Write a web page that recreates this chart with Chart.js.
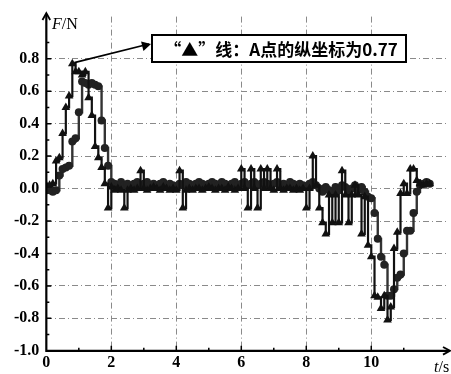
<!DOCTYPE html>
<html>
<head>
<meta charset="utf-8">
<script src="https://cdn.jsdelivr.net/npm/chart.js@4/dist/chart.umd.min.js"></script>
<style>
  html, body { margin: 0; padding: 0; background: #fff; }
  #wrap { width: 451px; height: 374px; }
</style>
</head>
<body>
<div id="wrap"><canvas id="forceChart" width="451" height="374"></canvas></div>
<script>
"use strict";

// sample times (s)
const times = [
  0.0, 0.1, 0.2, 0.3, 0.4, 0.5, 0.6, 0.7, 0.8, 0.9,
  1.0, 1.1, 1.2, 1.3, 1.4, 1.5, 1.6, 1.7, 1.8, 1.9,
  2.0, 2.1, 2.2, 2.3, 2.4, 2.5, 2.6, 2.7, 2.8, 2.9,
  3.0, 3.1, 3.2, 3.3, 3.4, 3.5, 3.6, 3.7, 3.8, 3.9,
  4.0, 4.1, 4.2, 4.3, 4.4, 4.5, 4.6, 4.7, 4.8, 4.9,
  5.0, 5.1, 5.2, 5.3, 5.4, 5.5, 5.6, 5.7, 5.8, 5.9,
  6.0, 6.1, 6.2, 6.3, 6.4, 6.5, 6.6, 6.7, 6.8, 6.9,
  7.0, 7.1, 7.2, 7.3, 7.4, 7.5, 7.6, 7.7, 7.8, 7.9,
  8.0, 8.1, 8.2, 8.3, 8.4, 8.5, 8.6, 8.7, 8.8, 8.9,
  9.0, 9.1, 9.2, 9.3, 9.4, 9.5, 9.6, 9.7, 9.8, 9.9,
  10.0, 10.1, 10.2, 10.3, 10.4, 10.5, 10.6, 10.7, 10.8, 10.9,
  11.0, 11.1, 11.2, 11.3, 11.4, 11.5, 11.6, 11.7, 11.8
];

// "▲" line (N)
const triangleF = [
  0.02, 0.02, 0.03, 0.17, 0.19, 0.34, 0.50, 0.57, 0.77, 0.72,
  0.72, 0.70, 0.72, 0.56, 0.45, 0.26, 0.19, 0.13, 0.03, -0.12,
  0.01, -0.01, 0.00, -0.01, -0.12, -0.01, 0.00, -0.01, 0.00, 0.11,
  0.00, -0.01, 0.00, 0.01, 0.00, -0.01, 0.01, 0.00, -0.01, 0.00,
  -0.01, 0.11, -0.12, -0.01, 0.00, -0.01, 0.00, 0.00, -0.01, 0.00,
  0.01, 0.00, -0.01, 0.00, 0.00, -0.01, 0.01, 0.00, -0.01, 0.00,
  0.12, 0.00, -0.12, 0.12, 0.00, -0.12, 0.12, 0.00, 0.12, 0.00,
  -0.01, 0.12, 0.00, -0.01, 0.00, 0.00, -0.01, 0.00, -0.01, 0.00,
  -0.12, 0.00, 0.20, 0.02, -0.12, -0.21, -0.28, -0.04, -0.21, -0.04,
  -0.21, 0.11, -0.04, -0.21, -0.04, 0.02, -0.04, -0.28, -0.05, -0.35,
  -0.42, -0.66, -0.67, -0.74, -0.66, -0.81, -0.73, -0.37, -0.27, -0.03,
  0.03, -0.03, 0.12, 0.12, 0.05, 0.03, 0.02, 0.03, 0.03
];

// "●" line (N)
const circleF = [
  -0.01, -0.01, -0.02, -0.01, 0.08, 0.12, 0.13, 0.14, 0.29, 0.31,
  0.47, 0.66, 0.65, 0.64, 0.65, 0.64, 0.63, 0.42, 0.25, 0.14,
  0.04, 0.03, 0.02, 0.04, 0.02, 0.03, 0.01, 0.03, 0.04, 0.02,
  0.03, 0.04, 0.02, 0.03, 0.01, 0.03, 0.04, 0.02, 0.03, 0.02,
  0.01, 0.03, 0.02, 0.04, 0.03, 0.02, 0.03, 0.04, 0.03, 0.02,
  0.03, 0.04, 0.03, 0.02, 0.04, 0.03, 0.02, 0.03, 0.04, 0.02,
  0.03, 0.04, 0.02, 0.03, 0.04, 0.02, 0.03, 0.04, 0.03, 0.02,
  0.03, 0.04, 0.02, 0.03, 0.02, 0.04, 0.03, 0.02, 0.03, 0.02,
  0.01, 0.03, 0.04, 0.02, 0.00, -0.02, 0.01, -0.01, -0.02, 0.01,
  -0.01, 0.02, 0.01, -0.02, 0.00, 0.02, -0.01, 0.01, -0.02, -0.05,
  -0.06, -0.15, -0.31, -0.42, -0.47, -0.66, -0.66, -0.62, -0.55, -0.53,
  -0.40, -0.26, -0.26, -0.15, -0.02, 0.02, 0.03, 0.04, 0.03
];

const xTicks = [0, 2, 4, 6, 8, 10];
const yTicks = [-1.0, -0.8, -0.6, -0.4, -0.2, 0.0, 0.2, 0.4, 0.6, 0.8];
const noteText = "“▲”线：A点的纵坐标为0.77";
const pointA = { x: 0.8, y: 0.77 };

const tickFont = { family: "'Liberation Serif', 'DejaVu Serif', serif", size: 16, weight: "bold" };

function arrowHead(ctx, x, y, angle, size, filled) {
  ctx.save();
  ctx.translate(x, y);
  ctx.rotate(angle);
  ctx.beginPath();
  ctx.moveTo(-size, -size * 0.55);
  ctx.lineTo(0, 0);
  ctx.lineTo(-size, size * 0.55);
  if (filled) {
    ctx.closePath();
    ctx.fill();
  } else {
    ctx.stroke();
  }
  ctx.restore();
}

// axes with arrows, minor ticks, axis names, note box
const decorations = {
  id: "decorations",
  beforeDatasetsDraw(chart) {
    const ctx = chart.ctx;
    const xs = chart.scales.x, ys = chart.scales.y;
    const left = chart.chartArea.left, bottom = chart.chartArea.bottom;
    ctx.save();
    ctx.strokeStyle = "#000";
    ctx.lineWidth = 1.5;
    ctx.beginPath();
    for (let t = 1; t <= 11; t++) {
      const px = xs.getPixelForValue(t);
      const len = t % 2 === 0 ? 5 : 3;
      ctx.moveTo(px, bottom);
      ctx.lineTo(px, bottom - len);
    }
    for (let k = -9; k <= 9; k++) {
      const py = ys.getPixelForValue(k / 10);
      const len = k % 2 === 0 ? 5 : 3;
      ctx.moveTo(left, py);
      ctx.lineTo(left + len, py);
    }
    ctx.stroke();
    ctx.restore();
  },
  afterDraw(chart) {
    const ctx = chart.ctx;
    const xs = chart.scales.x, ys = chart.scales.y;
    const left = chart.chartArea.left, bottom = chart.chartArea.bottom;
    ctx.save();
    ctx.strokeStyle = "#000";
    ctx.fillStyle = "#000";
    ctx.lineWidth = 2.2;
    ctx.beginPath();
    ctx.moveTo(left, bottom + 1);
    ctx.lineTo(left, 14);
    ctx.moveTo(left - 1, bottom);
    ctx.lineTo(449, bottom);
    ctx.stroke();
    ctx.lineWidth = 1.8;
    arrowHead(ctx, left, 13, -Math.PI / 2, 7, false);
    arrowHead(ctx, 450, bottom, 0, 7, false);

    // axis names
    ctx.textBaseline = "alphabetic";
    ctx.textAlign = "left";
    ctx.font = "italic 16px 'Liberation Serif', serif";
    ctx.fillText("F", 52, 29);
    let w = ctx.measureText("F").width;
    ctx.font = "16px 'Liberation Serif', serif";
    ctx.fillText("/N", 52 + w, 29);
    ctx.font = "italic 16px 'Liberation Serif', serif";
    ctx.fillText("t", 434, 372);
    w = ctx.measureText("t").width;
    ctx.font = "16px 'Liberation Serif', serif";
    ctx.fillText("/s", 434 + w, 372);

    // note box with arrow to point A
    const bx = 152, by = 35, bw = 254, bh = 27;
    ctx.fillStyle = "#fff";
    ctx.fillRect(bx, by, bw, bh);
    ctx.lineWidth = 2;
    ctx.strokeRect(bx, by, bw, bh);
    ctx.fillStyle = "#000";
    ctx.font = "bold 17px 'Noto Sans CJK SC', sans-serif";
    ctx.textAlign = "center";
    ctx.textBaseline = "middle";
    ctx.fillText(noteText, bx + bw / 2 + 2, by + bh / 2 + 1);

    const ax = xs.getPixelForValue(pointA.x) + 2;
    const ay = ys.getPixelForValue(pointA.y) - 1;
    const ex = bx - 3, ey = by + 9;
    ctx.lineWidth = 1.8;
    ctx.beginPath();
    ctx.moveTo(ax, ay);
    ctx.lineTo(ex, ey);
    ctx.stroke();
    arrowHead(ctx, ex + 2, ey, Math.atan2(ey - ay, ex - ax), 9, true);
    ctx.restore();
  }
};

const ctxF = document.getElementById("forceChart").getContext("2d");
const forceChart = new Chart(ctxF, {
  type: "line",
  data: {
    datasets: [
      {
        label: "●",
        data: times.map((t, i) => ({ x: t, y: circleF[i] })),
        stepped: "before",
        borderColor: "#333",
        backgroundColor: "#222",
        borderWidth: 2.4,
        pointStyle: "circle",
        pointRadius: 4,
        pointBorderWidth: 0,
        order: 2
      },
      {
        label: "▲",
        data: times.map((t, i) => ({ x: t, y: triangleF[i] })),
        stepped: "before",
        borderColor: "#111",
        backgroundColor: "#111",
        borderWidth: 2.2,
        pointStyle: "triangle",
        pointRadius: 5,
        pointBorderWidth: 0,
        order: 1
      }
    ]
  },
  options: {
    responsive: false,
    animation: false,
    layout: { padding: { left: 7, top: 14, right: 4, bottom: 0 } },
    plugins: {
      legend: { display: false },
      tooltip: { enabled: false }
    },
    scales: {
      x: {
        type: "linear",
        min: 0,
        max: 12.3,
        afterBuildTicks: axis => { axis.ticks = xTicks.map(v => ({ value: v })); },
        ticks: { color: "#000", font: tickFont, padding: 2, maxRotation: 0 },
        grid: {
          drawTicks: false,
          color: c => (c.tick && c.tick.value === 0 ? "rgba(0,0,0,0)" : "#8a8a8a"),
          lineWidth: 1
        },
        border: { display: false, dash: [6, 3, 1, 3] }
      },
      y: {
        min: -1.0,
        max: 1.06,
        afterBuildTicks: axis => { axis.ticks = yTicks.map(v => ({ value: v })); },
        ticks: {
          color: "#000",
          font: tickFont,
          padding: 7,
          callback: v => v.toFixed(1)
        },
        grid: {
          drawTicks: false,
          color: c => (c.tick && c.tick.value === -1 ? "rgba(0,0,0,0)" : "#8a8a8a"),
          lineWidth: 1
        },
        border: { display: false, dash: [6, 3, 1, 3] }
      }
    }
  },
  plugins: [decorations]
});
</script>
</body>
</html>
